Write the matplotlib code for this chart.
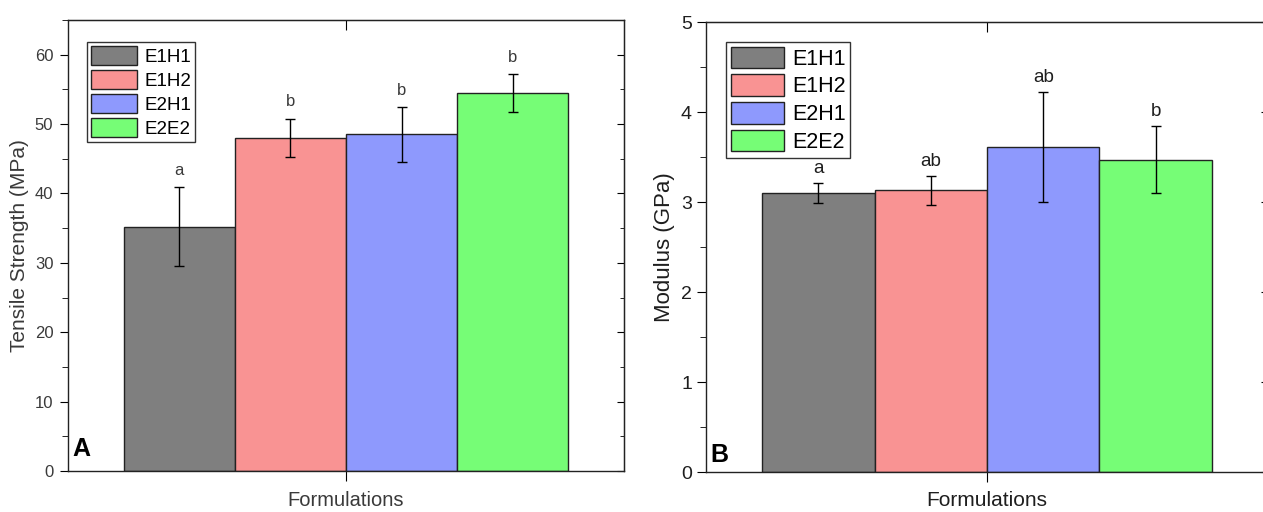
import numpy as np
import matplotlib
matplotlib.use('Agg')
import matplotlib.pyplot as plt
from matplotlib.ticker import MultipleLocator

plt.rcParams['font.family'] = ['Liberation Sans', 'DejaVu Sans']

formulations = ['E1H1', 'E1H2', 'E2H1', 'E2E2']
colors = ['#7f7f7f', '#f99393', '#8e99fd', '#76fd76']

tensile = [35.2, 48.0, 48.5, 54.5]
tensile_err = [5.7, 2.8, 4.0, 2.7]
tensile_groups = ['a', 'b', 'b', 'b']

modulus = [3.10, 3.13, 3.61, 3.47]
modulus_err = [0.11, 0.16, 0.61, 0.37]
modulus_groups = ['a', 'ab', 'ab', 'b']


def draw_panel(ax, values, errs, groups, ylim, major, minor, ylabel, tag, s):
    x = np.arange(len(values)) - 1.5
    bars = ax.bar(x, values, width=1.0, color=colors, edgecolor='#222222',
                  linewidth=1.0, zorder=2)
    ax.errorbar(x, values, yerr=errs, fmt='none', ecolor='black',
                elinewidth=1.0, capsize=3.6, capthick=1.0, zorder=3)
    for xi, v, e, g in zip(x, values, errs, groups):
        ax.text(xi, v + e + s['letter_pad'], g, ha='center', va='bottom',
                fontsize=s['letter_fs'], color=s['color'])

    ax.set_xlim(-2.5, 2.5)
    ax.set_ylim(*ylim)
    ax.set_xticks([0])
    ax.set_xticklabels([''])
    ax.yaxis.set_major_locator(MultipleLocator(major))
    ax.yaxis.set_minor_locator(MultipleLocator(minor))
    ax.tick_params(axis='y', which='major', direction='out', length=s['tick_len'],
                   pad=s['tick_pad'], labelsize=s['tick_fs'], labelcolor=s['color'])
    ax.tick_params(axis='y', which='minor', direction='out', length=4)
    ax.tick_params(axis='x', direction='out', length=7)

    sec_y = ax.secondary_yaxis('right')
    sec_y.yaxis.set_major_locator(MultipleLocator(major))
    sec_y.yaxis.set_minor_locator(MultipleLocator(minor))
    sec_y.tick_params(which='major', direction='in', length=5, labelright=False)
    sec_y.tick_params(which='minor', direction='in', length=3)
    sec_x = ax.secondary_xaxis('top')
    sec_x.set_xticks([0])
    sec_x.set_xticklabels([''])
    sec_x.tick_params(direction='in', length=7, labeltop=False)

    for sp in ax.spines.values():
        sp.set_linewidth(1.0)
        sp.set_color('#222222')

    ax.set_ylabel(ylabel, fontsize=s['ylabel_fs'], color=s['color'])
    ax.yaxis.label.set_va('center')
    ax.yaxis.set_label_coords(s['ylabel_x'], 0.5)
    ax.set_xlabel('Formulations', fontsize=s['xlabel_fs'], color=s['color'])
    ax.xaxis.set_label_coords(0.5, s['xlabel_y'])

    ax.text(0.008, s['tag_y'], tag, transform=ax.transAxes, fontsize=18,
            fontweight='bold', ha='left', va='bottom')

    leg = ax.legend(bars, formulations, loc='upper left',
                    bbox_to_anchor=s['leg_pos'], fontsize=s['leg_fs'],
                    frameon=True, fancybox=False, edgecolor='black',
                    handlelength=s['handle_len'], handleheight=s['handle_h'],
                    handletextpad=0.38, labelspacing=0.22,
                    borderpad=0.22, borderaxespad=0.0)
    leg.get_frame().set_linewidth(1.0)


style_a = dict(color='#3a3a3a', letter_pad=1.3, letter_fs=12, tick_fs=12,
               tick_len=6, tick_pad=4.5, ylabel_fs=15, ylabel_x=-0.087,
               xlabel_fs=14.5, xlabel_y=-0.044, tag_y=0.022,
               leg_pos=(0.034, 0.951), leg_fs=13.5, handle_len=2.45, handle_h=1.18)
style_b = dict(color='#1e1e1e', letter_pad=0.07, letter_fs=13.5, tick_fs=14,
               tick_len=6.5, tick_pad=3.6, ylabel_fs=16, ylabel_x=-0.073,
               xlabel_fs=15, xlabel_y=-0.041, tag_y=0.012,
               leg_pos=(0.036, 0.956), leg_fs=15.5, handle_len=2.46, handle_h=1.16)

fig = plt.figure(figsize=(12.63, 5.12), dpi=100)
ax_a = fig.add_axes([0.0538, 0.080, 0.4402, 0.881])
ax_b = fig.add_axes([0.559, 0.078, 0.445, 0.879])

draw_panel(ax_a, tensile, tensile_err, tensile_groups, (0, 65), 10, 5,
           'Tensile Strength (MPa)', 'A', style_a)
draw_panel(ax_b, modulus, modulus_err, modulus_groups, (0, 5), 1, 0.5,
           'Modulus (GPa)', 'B', style_b)

fig.savefig('out.png', dpi=100)
